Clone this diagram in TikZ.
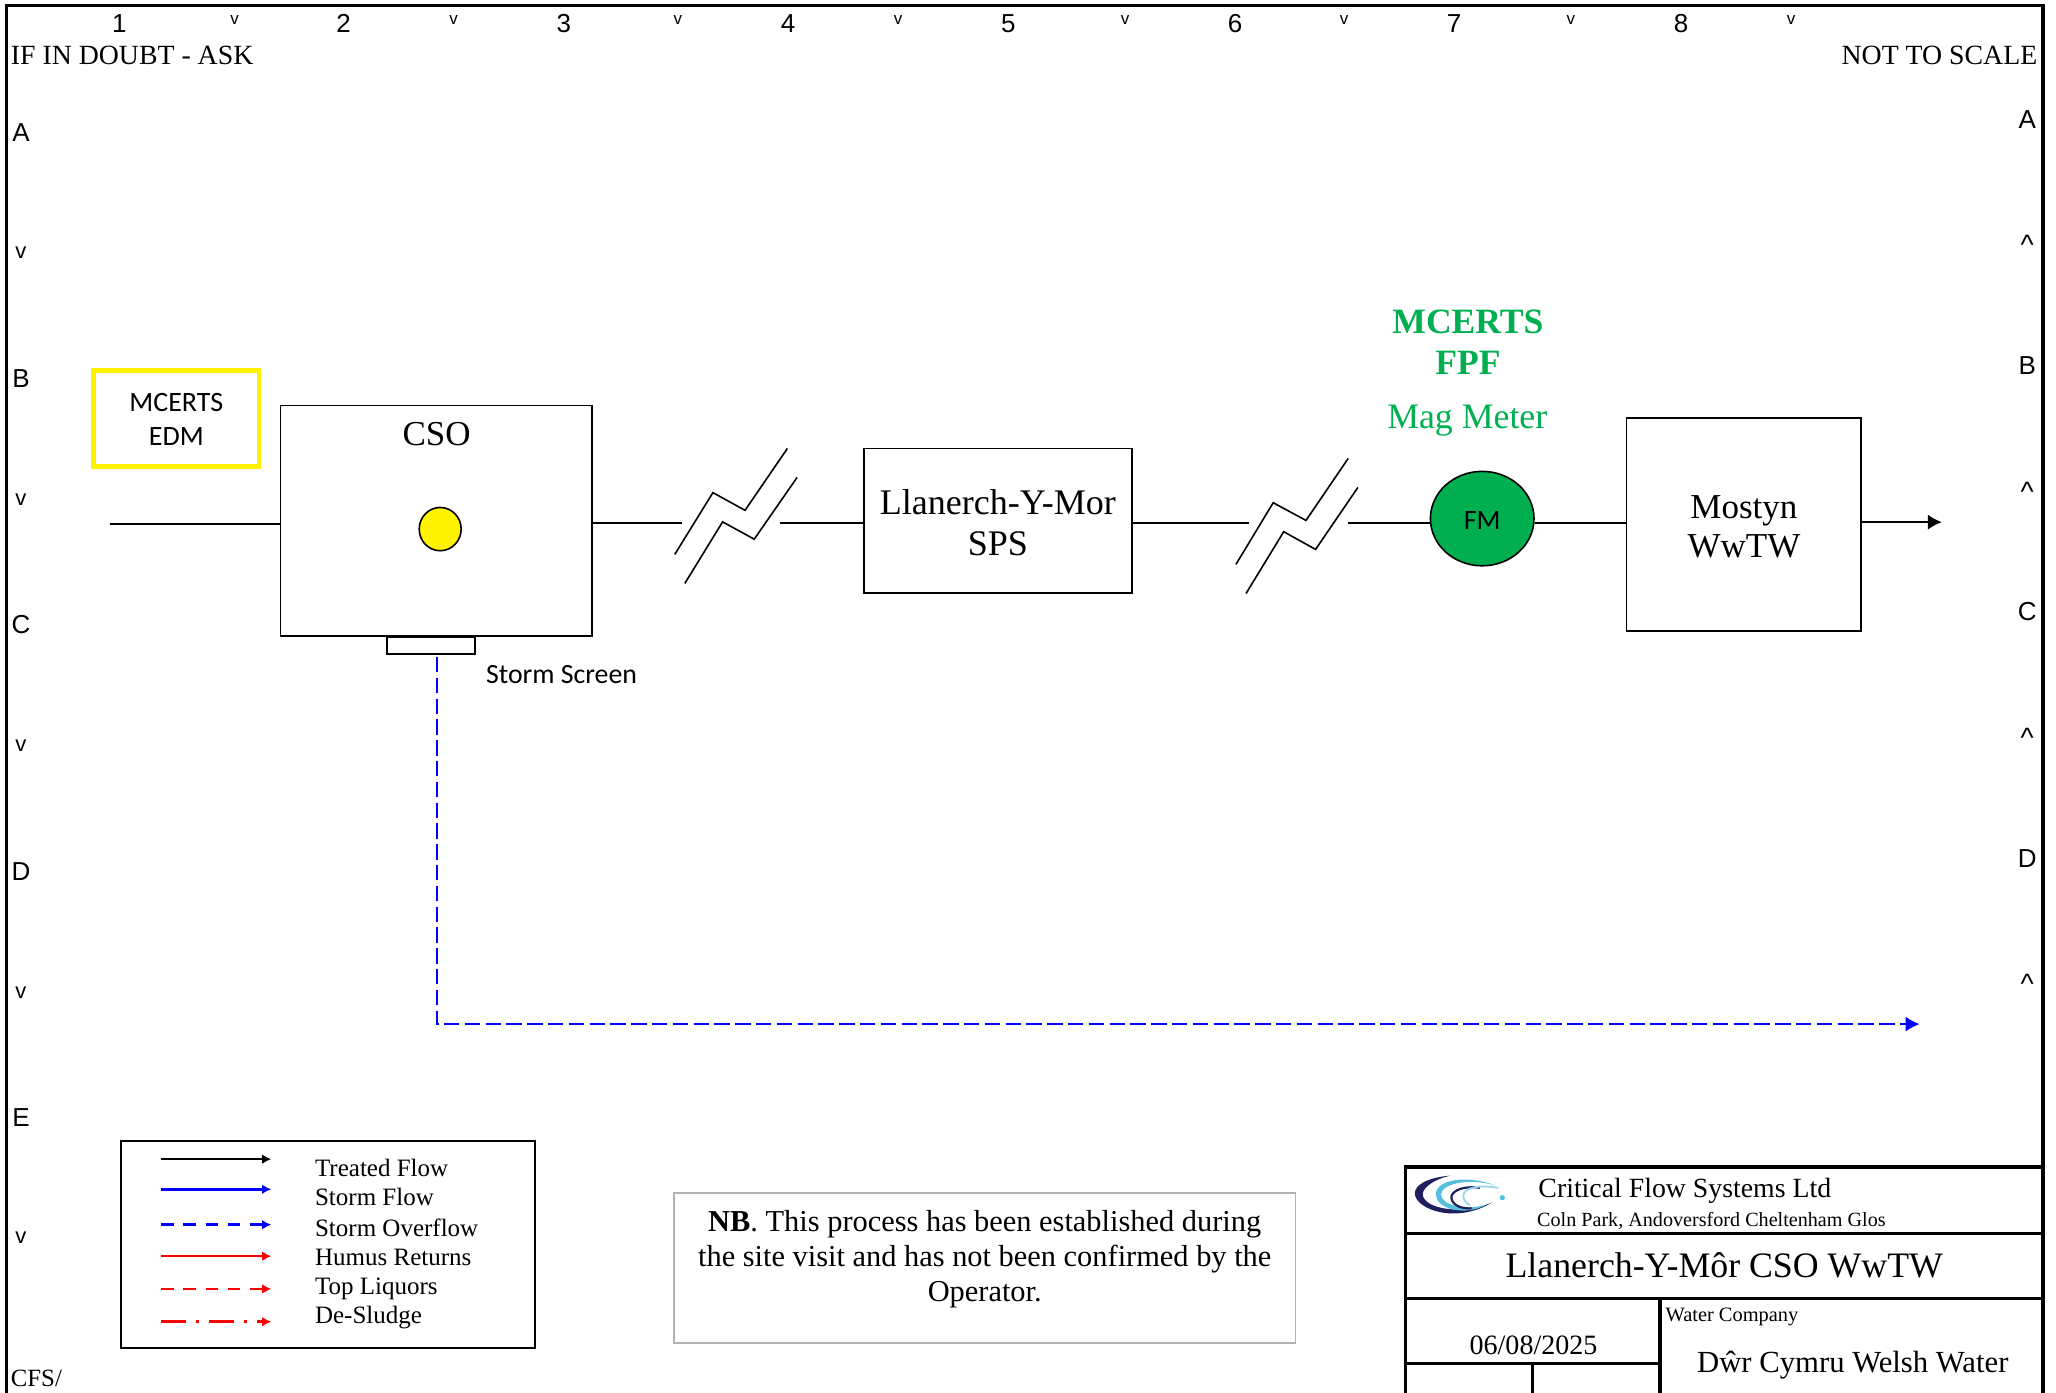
\documentclass[tikz,border=0pt]{standalone}
\usepackage{fontspec}
\usetikzlibrary{shapes.geometric, arrows.meta}
\setmainfont{Liberation Serif}
\setsansfont{Liberation Sans}
\newfontfamily\calfont{Carlito}
\def\u{0.6556pt}
\newcommand{\fsz}[1]{\fontsize{#1}{1.2em}\selectfont}
\newcommand{\dropby}[2]{\raisebox{-#1}[\height][\depth]{#2}}
\definecolor{meter}{HTML}{00B050}
\definecolor{logodark}{HTML}{1F1F5F}
\definecolor{logolight}{HTML}{55BFDD}
\tikzset{
	unit/.style={draw,line width=0.9pt,inner sep=0pt,align=center,font=\fontsize{17.5}{19.7}\selectfont},
	edge/.style={line width=0.9pt},
	crack/.style={line width=0.8pt},
	lbl/.style={inner sep=0pt},
	grid/.style={lbl,font=\sffamily\fontsize{13}{15}\selectfont},
	tick/.style={lbl,font=\sffamily\fontsize{8.5}{10}\selectfont},
	cal/.style={lbl,align=center,font=\calfont\fontsize{14}{17}\selectfont},
	legendtxt/.style={lbl,anchor=west,font=\fontsize{12.5}{14}\selectfont},
	frameline/.style={line width=1.6pt},
	flowplain/.style={solid},
	flowdash/.style={dash pattern=on 6.3pt off 4.8pt},
	flowchain/.style={dash pattern=on 12.5pt off 5pt on 1.5pt off 5pt},
	bighead/.style={-{Latex[length=7pt,width=7.5pt]}},
	smallhead/.style={-{Latex[length=4.7pt,width=4.8pt]}},
}
\begin{document}
\begin{tikzpicture}[x=\u,y=-\u]
	\useasboundingbox (0,0) rectangle (1568,1062);
	% sheet border
	\draw[frameline] (5,1062) -- (5,4) -- (1558,4) -- (1558,1062);
	% grid references
	\foreach \x/\t in {91/1,262/2,430/3,601/4,769/5,942/6,1109/7,1282/8}
		\node[grid] at (\x,18) {\t};
	\foreach \x in {179,346,517,685,858,1025,1198,1366}
		\node[tick] at (\x,15.5) {v};
	\foreach \y/\t in {101/A,288.5/B,476/C,664.5/D,852/E}
		\node[grid] at (16,\y) {\t};
	\foreach \y in {193,381,569,757,944}
		\node[tick,font=\sffamily\fontsize{11}{12}\selectfont] at (16,\y) {v};
	\foreach \y/\t in {91/A,279/B,466.5/C,654.5/D}
		\node[grid] at (1546,\y) {\t};
	\foreach \y in {187,375,563,750}
		\node[tick,font=\sffamily\fontsize{14}{15}\selectfont] at (1546,\y) {\textasciicircum};
	\node[lbl,anchor=west,font=\fsz{13.9}] (doubt) at (8,42) {IF IN DOUBT - ASK};
	\node[lbl,anchor=east,font=\fsz{13.9}] (scale) at (1554,42) {NOT TO SCALE};
	\node[lbl,anchor=west,font=\fsz{12.4}] (cfs) at (8,1051) {CFS/};
	% process units
	\node[cal,draw=yellow,line width=2.4pt,minimum width=126*\u,minimum height=73*\u] (edm) at (134.5,319) {\dropby{0.7pt}{MCERTS}\\\dropby{0.7pt}{EDM}};
	\node[unit,minimum width=237.5*\u,minimum height=176*\u] (cso) at (332.7,397.3) {};
	\node[lbl,font=\fsz{17.5}] (csolabel) at (333,331) {CSO};
	\node[draw,fill=yellow,line width=0.8pt,ellipse,minimum width=32*\u,minimum height=33*\u,inner sep=0pt] (level) at (335.7,403.5) {};
	\node[unit,minimum width=67*\u,minimum height=13*\u,anchor=north] (screen) at (328.5,485.3) {};
	\node[cal,anchor=west,font=\calfont\fontsize{13.9}{17}\selectfont] (screenlabel) at (370.5,514.7) {Storm Screen};
	\node[unit,minimum width=204*\u,minimum height=110*\u,font=\fontsize{18}{20.2}\selectfont] (sps) at (761,397) {\dropby{0.7pt}{Llanerch-Y-Mor}\\\dropby{1.3pt}{SPS}};
	\node[cal,draw,fill=meter,line width=0.8pt,ellipse,minimum width=79*\u,minimum height=72*\u] (fm) at (1130.4,395.5) {\dropby{1pt}{FM}};
	\node[unit,minimum width=179*\u,minimum height=163*\u] (wwtw) at (1330,400) {\dropby{1.3pt}{Mostyn}\\\dropby{1.3pt}{WwTW}};
	\node[lbl,align=center,text=meter,font=\bfseries\fontsize{17.8}{20.4}\selectfont] (mcerts) at (1119.5,261) {MCERTS\\FPF};
	\node[lbl,text=meter,font=\fsz{17.9}] (mag) at (1119,320.5) {Mag Meter};
	% flow line
	\coordinate (inlet) at (84,399.5);
	\coordinate (breakaL) at (520,399);
	\coordinate (breakaR) at (594.5,399);
	\coordinate (breakbL) at (952.5,398.7);
	\coordinate (breakbR) at (1028,398.7);
	\coordinate (outlet) at (1481,398.2);
	\coordinate (stormend) at (1464,781);
	\coordinate (stormbend) at (333,781);
	\coordinate (stormtop) at (333,501);
	\draw[edge] (inlet) -- (inlet -| cso.west);
	\draw[edge] (breakaL -| cso.east) -- (breakaL);
	\draw[edge] (breakaR) -- (breakaR -| sps.west);
	\draw[edge] (breakbL -| sps.east) -- (breakbL);
	\draw[edge] (breakbR) -- (breakbR -| fm.west);
	\draw[edge] (breakbR -| fm.east) -- (breakbR -| wwtw.west);
	\draw[edge,bighead] (outlet -| wwtw.east) -- (outlet);
	\draw[crack] (514.6,422.8) -- (543.7,375.7) -- (568.2,389.2) -- (600.5,342);
	\draw[crack] (522.3,444.9) -- (551.1,398) -- (575.2,411.2) -- (607.9,364.1);
	\draw[crack] (942.6,430.4) -- (971,383.4) -- (996,396.9) -- (1028.2,349.6);
	\draw[crack] (950.3,452.6) -- (979,405.5) -- (1003.3,419) -- (1035.6,371.7);
	\draw[blue,line width=0.9pt,dash pattern=on 7.7pt off 2.7pt,bighead] (stormtop) -- (stormbend) -- (stormend);
	% legend
	\node[draw,line width=0.9pt,minimum width=316*\u,minimum height=158*\u,inner sep=0pt] (legend) at (250,949) {};
	\foreach \n/\y/\ty/\col/\pat/\t in {
		a/884/891/black/flowplain/Treated Flow,
		b/907/913/blue/flowplain/Storm Flow,
		c/934/936/blue/flowdash/Storm Overflow,
		d/958/959/red/flowplain/Humus Returns,
		e/983/983/red/flowdash/Top Liquors,
		f/1008/1005/red/flowchain/De-Sludge}
	{
		\coordinate (k\n) at (123,\y);
		\coordinate (m\n) at (207,\y);
		\draw[\col,line width=1.3pt,\pat,smallhead] (k\n) -- (m\n);
		\node[legendtxt] (t\n) at (240,\ty) {\t};
	}
	% note
	\node[draw=black!30,line width=0.9pt,minimum width=474*\u,minimum height=114*\u,inner sep=0pt] (notebox) at (751,967) {};
	\node[lbl,align=center,font=\fontsize{15.2}{17.6}\selectfont] (note) at (751,960.5) {\textbf{NB}. This process has been established during\\the site visit and has not been confirmed by the\\Operator.};
	% title block
	\draw[frameline] (1558,890) -- (1072,890) -- (1072,1062);
	\draw[frameline] (1072,941) -- (1558,941);
	\draw[frameline] (1072,990) -- (1558,990);
	\draw[frameline] (1072,1040) -- (1266,1040);
	\draw[frameline] (1266,990) -- (1266,1062);
	\draw[frameline] (1169,1040) -- (1169,1062);
	% logo
	\fill[logodark] (1106,896.6) .. controls (1088,898) and (1079,904) .. (1079,910) .. controls (1079,922) and (1110,934) .. (1138,917) .. controls (1115,927) and (1086,922) .. (1085,911) .. controls (1085,905) and (1095,899) .. (1106,896.6) -- cycle;
	\fill[logolight] (1140,904) .. controls (1120,896) and (1095,899) .. (1095,911) .. controls (1095,922) and (1118,928) .. (1134,918.5) .. controls (1118,924) and (1099,919) .. (1099,911) .. controls (1099,903) and (1120,898) .. (1140,904) -- cycle;
	\draw[logodark,line width=1.1pt] (1128.7,905.8) .. controls (1112,904) and (1106,910) .. (1107,914) .. controls (1108,920) and (1116,922) .. (1122.3,921.5);
	\draw[logolight!60,line width=0.9pt] (1142.7,906) .. controls (1128,903) and (1116,906) .. (1116,912) .. controls (1116,916) and (1119,918) .. (1121,919);
	\fill[logolight] (1145.7,913.4) circle (2);
	\node[lbl,anchor=west,font=\fsz{13.9}] (firm) at (1173,908) {Critical Flow Systems Ltd};
	\node[lbl,anchor=west,font=\fsz{10.07}] (addr) at (1172,931.5) {Coln Park, Andoversford Cheltenham Glos};
	\node[lbl,font=\fsz{17.9}] (site) at (1315,965) {Llanerch-Y-Môr CSO WwTW};
	\node[lbl,anchor=west,font=\fsz{10.2}] (wclabel) at (1270,1004) {Water Company};
	\node[lbl,font=\fsz{14}] (date) at (1169.5,1026) {06/08/2025};
	\node[lbl,font=\fsz{15.35}] (wc) at (1413,1041) {Dŵr Cymru Welsh Water};
\end{tikzpicture}
\end{document}
